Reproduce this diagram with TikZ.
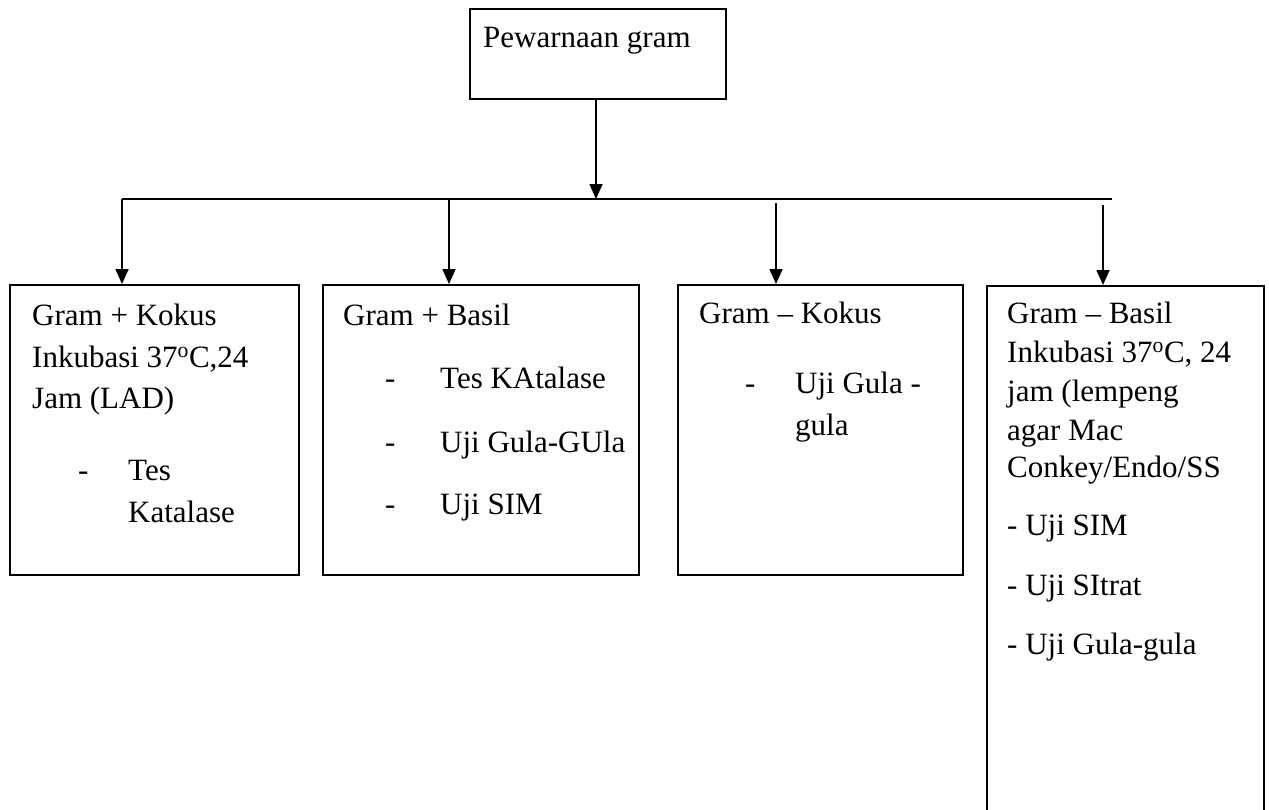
\documentclass[tikz,border=0pt]{standalone}
\usepackage{fontspec}
\setmainfont{Liberation Serif}
\usetikzlibrary{arrows.meta}
\begin{document}
\begin{tikzpicture}[x=1pt,y=-1pt,
  box/.style={draw, line width=1.8pt, anchor=north west, inner sep=0pt},
  txt/.style={anchor=base west, inner sep=0pt, font=\fontsize{31}{36}\selectfont},
  link/.style={line width=1.8pt},
  arrowlink/.style={link, -{Triangle[width=13pt,length=15pt]}}]
\useasboundingbox (0,0) rectangle (1269,809);

% boxes
\node[box, minimum width=256pt, minimum height=90pt]  (top) at (469,8) {};
\node[box, minimum width=289pt, minimum height=290pt] (b1) at (9,284) {};
\node[box, minimum width=316pt, minimum height=290pt] (b2) at (322,284) {};
\node[box, minimum width=285pt, minimum height=290pt] (b3) at (677,284) {};
\node[box, minimum width=277pt, minimum height=540pt] (b4) at (986,285) {};

% distribution bar
\coordinate (barL) at (122,199);
\coordinate (barM) at (596,199);
\coordinate (barR) at (1112,199);
\coordinate (s2) at (449,199);
\coordinate (s3) at (776,203);
\coordinate (s4) at (1103,205);
\draw[link] (barL) -- (barR);
\draw[arrowlink] (top.south -| barM) -- (barM);
\draw[arrowlink] (barL) -- (barL |- b1.north);
\draw[arrowlink] (s2) -- (s2 |- b2.north);
\draw[arrowlink] (s3) -- (s3 |- b3.north);
\draw[arrowlink] (s4) -- (s4 |- b4.north);

% texts
\node[txt] (tt) at (483,47) {Pewarnaan gram};

\node[txt] (t1a) at (32,325) {Gram + Kokus};
\node[txt] (t1b) at (32,367) {Inkubasi 37\textsuperscript{o}C,24};
\node[txt] (t1c) at (32,408) {Jam (LAD)};
\node[txt] (t1d) at (78,480) {-};
\node[txt] (t1e) at (128,480) {Tes};
\node[txt] (t1f) at (128,522) {Katalase};

\node[txt] (t2a) at (343,325) {Gram + Basil};
\node[txt] (t2b) at (385,388) {-};
\node[txt] (t2c) at (440,388) {Tes KAtalase};
\node[txt] (t2d) at (385,452) {-};
\node[txt] (t2e) at (440,452) {Uji Gula-GUla};
\node[txt] (t2f) at (385,514) {-};
\node[txt] (t2g) at (440,514) {Uji SIM};

\node[txt] (t3a) at (699,323) {Gram – Kokus};
\node[txt] (t3b) at (745,393) {-};
\node[txt] (t3c) at (795,393) {Uji Gula -};
\node[txt] (t3d) at (795,435) {gula};

\node[txt] (t4a) at (1007,323) {Gram – Basil};
\node[txt] (t4b) at (1007,362) {Inkubasi 37\textsuperscript{o}C, 24};
\node[txt] (t4c) at (1007,401) {jam (lempeng};
\node[txt] (t4d) at (1007,440) {agar Mac};
\node[txt] (t4e) at (1007,477) {Conkey/Endo/SS};
\node[txt] (t4f) at (1007,535) {- Uji SIM};
\node[txt] (t4g) at (1007,595) {- Uji SItrat};
\node[txt] (t4h) at (1007,654) {- Uji Gula-gula};
\end{tikzpicture}
\end{document}
